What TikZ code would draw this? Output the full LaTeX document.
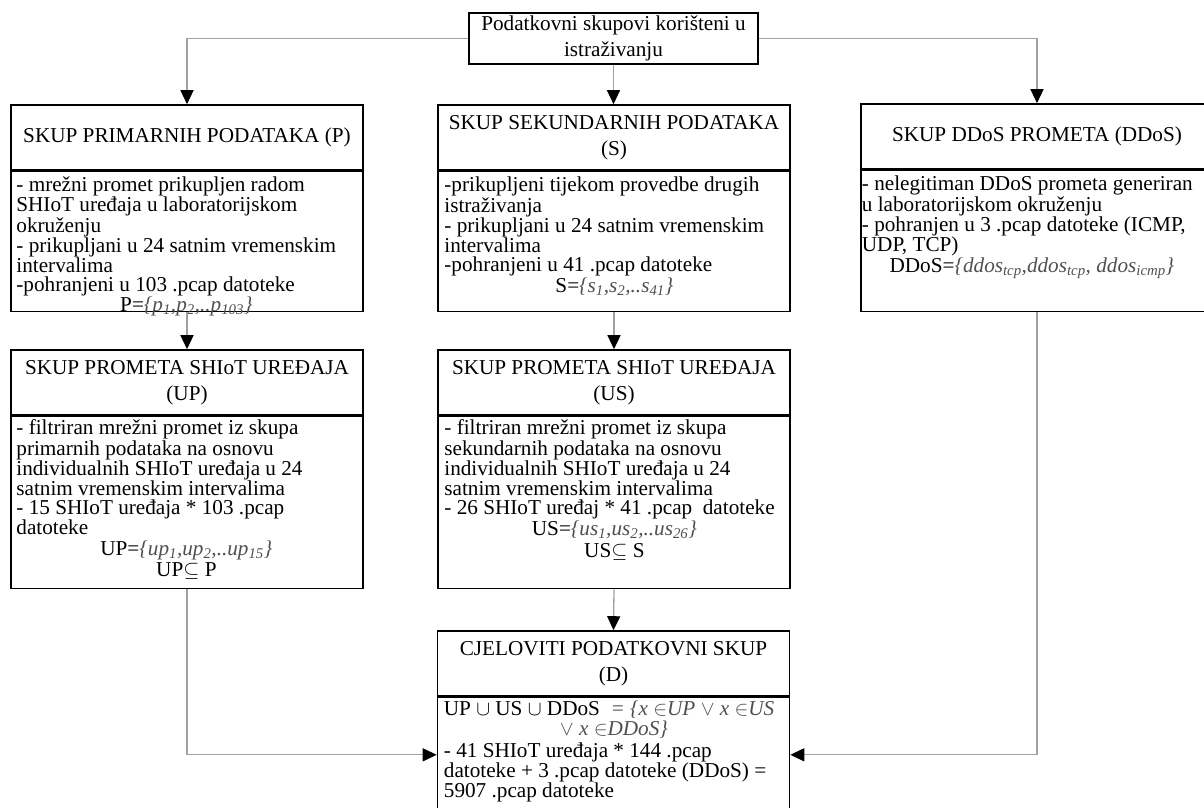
\documentclass[tikz,border=0pt]{standalone}
\usepackage{fontspec}
\setmainfont{Liberation Serif}
\usepackage{xcolor}
\definecolor{connGray}{HTML}{A0A0A0}
\definecolor{formulaGray}{HTML}{505050}
\usetikzlibrary{positioning,arrows.meta}
\newcommand{\fline}[1]{\makebox[340pt][c]{#1}}
\newcommand{\fml}[1]{{\color{formulaGray}\itshape #1}}
\newcommand{\ix}[1]{\textsubscript{#1}}

\begin{document}
\begin{tikzpicture}[x=1pt, y=-1pt,
  box/.style={draw=black, line width=1.6pt, minimum width=352pt, inner sep=2pt},
  headbox/.style={box, minimum height=65pt, align=center, font=\fontsize{21.2}{26}\selectfont},
  bodybox/.style={box},
  bodytext/.style={anchor=north west, align=left, inner sep=0pt, font=\fontsize{21.2}{18.7}\selectfont},
  conn/.style={draw=connGray, line width=1.3pt, -{Triangle[width=13pt,length=14pt,color=black]}}]
  \useasboundingbox (0,0) rectangle (1204,807);
  \clip (0,0) rectangle (1204,807);
  \fill[white] (0,0) rectangle (1204,807);

  \node[headbox, minimum width=289pt, minimum height=51pt] (top) at (613.5,38.5) {Podatkovni skupovi korišteni u\\istraživanju};

  \node[headbox] (P) at (187,137.5) {SKUP PRIMARNIH PODATAKA (P)};
  \node[bodybox, minimum height=140pt, below=0pt of P] (Pbody) {};
  \node[headbox] (S) at (614,137.5) {SKUP SEKUNDARNIH PODATAKA\\(S)};
  \node[bodybox, minimum height=140pt, below=0pt of S] (Sbody) {};
  \node[headbox] (DDoS) at (1037,136.5) {SKUP DDoS PROMETA (DDoS)};
  \node[bodybox, minimum height=141pt, below=0pt of DDoS] (DDoSbody) {};
  \node[headbox] (UP) at (187,382.5) {SKUP PROMETA SHIoT UREĐAJA\\(UP)};
  \node[bodybox, minimum height=172pt, below=0pt of UP] (UPbody) {};
  \node[headbox] (US) at (614,382.5) {SKUP PROMETA SHIoT UREĐAJA\\(US)};
  \node[bodybox, minimum height=172pt, below=0pt of US] (USbody) {};
  \node[headbox] (D) at (613.5,663.5) {CJELOVITI PODATKOVNI SKUP\\(D)};
  \node[bodybox, minimum height=140pt, below=0pt of D] (Dbody) {};

  \node[bodytext] (Ptext) at ([shift={(6pt,-6pt)}]Pbody.north west) {- mrežni promet prikupljen radom\\SHIoT uređaja u laboratorijskom\\okruženju\\- prikupljani u 24 satnim vremenskim\\intervalima\\-pohranjeni u 103 .pcap datoteke\\\fline{P=\fml{\{p\ix{1},p\ix{2},..p\ix{103}\}}}};
  \node[bodytext] (Stext) at ([shift={(7pt,-6pt)}]Sbody.north west) {-prikupljeni tijekom provedbe drugih\\istraživanja\\- prikupljani u 24 satnim vremenskim\\intervalima\\-pohranjeni u 41 .pcap datoteke\\[1pt]\fline{S=\fml{\{s\ix{1},s\ix{2},..s\ix{41}\}}}};
  \node[bodytext] (DDoStext) at ([shift={(1.5pt,-6pt)}]DDoSbody.north west) {- nelegitiman DDoS prometa generiran\\u laboratorijskom okruženju\\- pohranjen u 3 .pcap datoteke (ICMP,\\UDP, TCP)\\[1pt]\fline{DDoS=\fml{\{ddos\ix{tcp},ddos\ix{tcp}, ddos\ix{icmp}\}}}};
  \node[bodytext] (UPtext) at ([shift={(6pt,-4pt)}]UPbody.north west) {- filtriran mrežni promet iz skupa\\primarnih podataka na osnovu\\individualnih SHIoT uređaja u 24\\satnim vremenskim intervalima\\- 15 SHIoT uređaja * 103 .pcap\\datoteke\\[2pt]\fline{UP=\fml{\{up\ix{1},up\ix{2},..up\ix{15}\}}}\\[3pt]\fline{UP$\subseteq$ P}};
  \node[bodytext] (UStext) at ([shift={(7pt,-4pt)}]USbody.north west) {- filtriran mrežni promet iz skupa\\sekundarnih podataka na osnovu\\individualnih SHIoT uređaja u 24\\satnim vremenskim intervalima\\- 26 SHIoT uređaj * 41 .pcap\ \ datoteke\\[1pt]\fline{US=\fml{\{us\ix{1},us\ix{2},..us\ix{26}\}}}\\[3pt]\fline{US$\subseteq$ S}};
  \node[bodytext] (Dtext) at ([shift={(7pt,-4pt)}]Dbody.north west) {UP $\cup$ US $\cup$ DDoS\ \ \fml{= \{x $\in$UP $\vee$ x $\in$US}\\[1pt]\fline{\fml{$\vee$ x $\in$DDoS\}}}\\[3pt]- 41 SHIoT uređaja * 144 .pcap\\datoteke + 3 .pcap datoteke (DDoS) =\\5907 .pcap datoteke};

  \draw[conn] (top.west) -| (P.north);
  \draw[conn] (top.south) -- (top.south |- S.north);
  \draw[conn] (top.east) -| (DDoS.north);
  \draw[conn] (Pbody.south) -- (UP.north);
  \draw[conn] (Sbody.south) -- (US.north);
  \draw[conn] (USbody.south) -- (D.north);
  \draw[conn] (UPbody.south) |- ([yshift=-58pt]Dbody.north west);
  \draw[conn] (DDoSbody.south) |- ([yshift=-58pt]Dbody.north east);
\end{tikzpicture}
\end{document}
